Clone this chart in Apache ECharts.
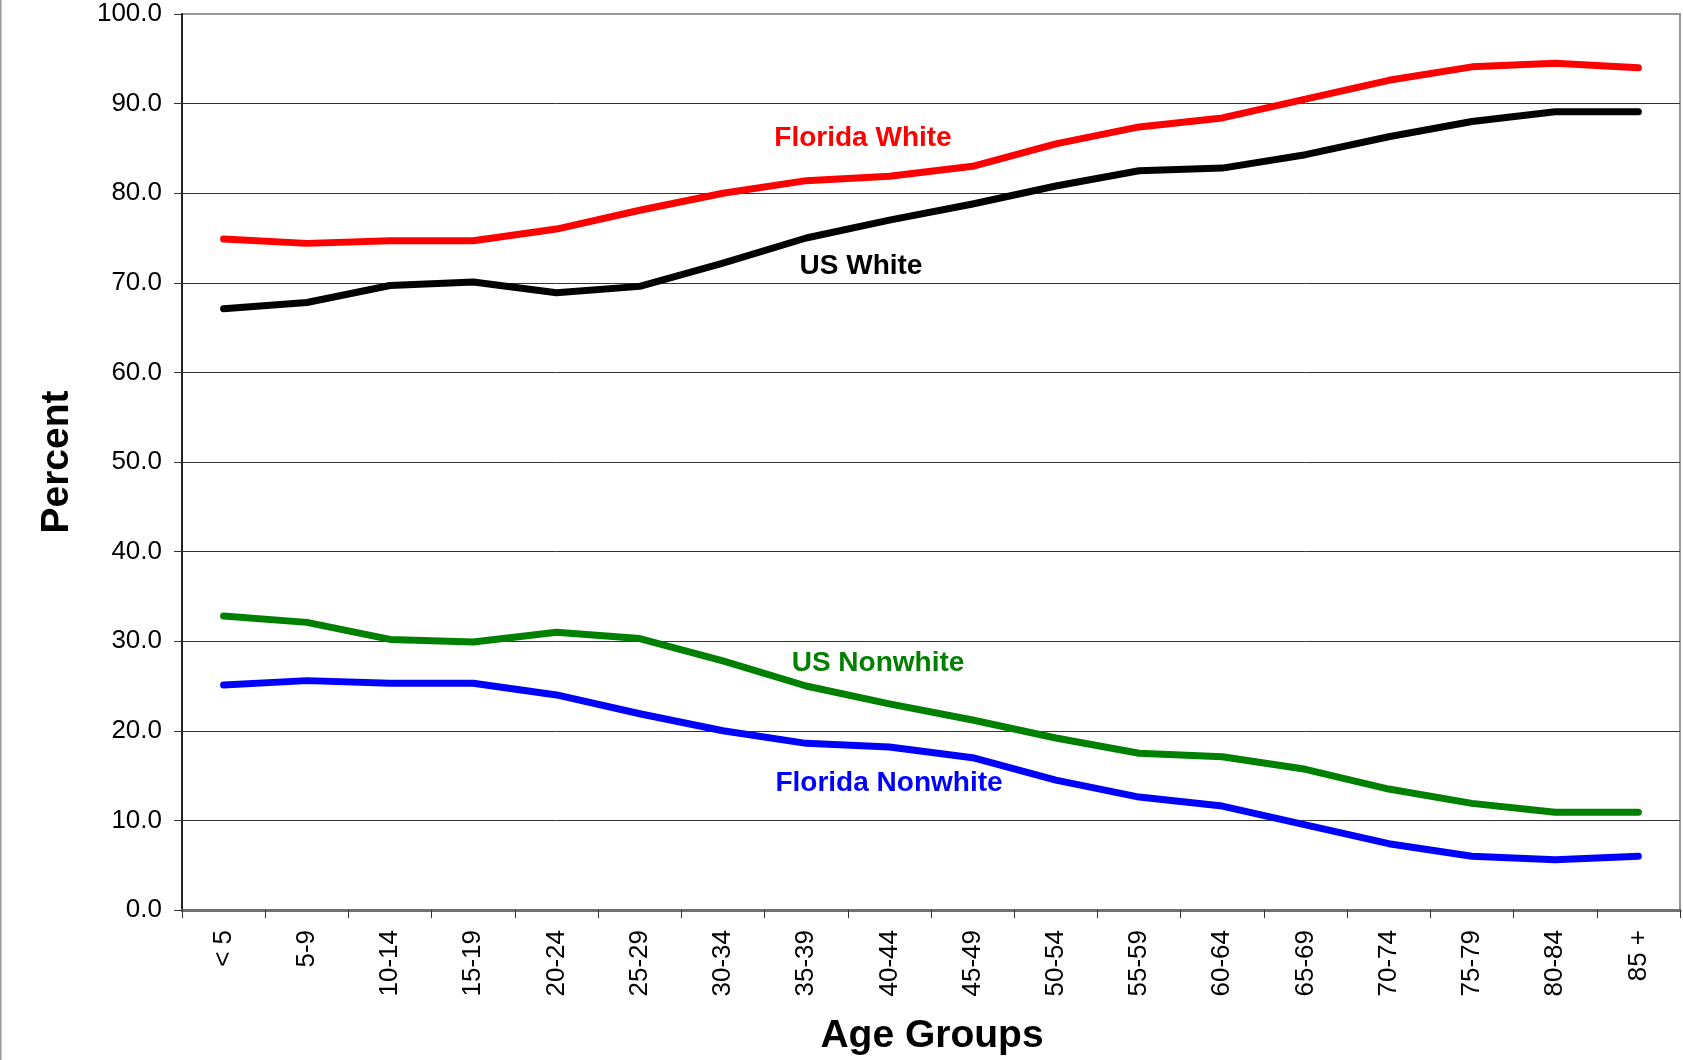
<!DOCTYPE html>
<html>
<head>
<meta charset="utf-8">
<script src="https://cdn.jsdelivr.net/npm/echarts@6/dist/echarts.min.js"></script>
<style>
html, body { margin: 0; padding: 0; background: #fff; }
#chart { width: 1683px; height: 1060px; }
</style>
</head>
<body>
<div id="chart"></div>
<script>
// age groups on the x axis
let ageGroups = ['< 5', '5-9', '10-14', '15-19', '20-24', '25-29', '30-34', '35-39', '40-44',
    '45-49', '50-54', '55-59', '60-64', '65-69', '70-74', '75-79', '80-84', '85 +']

// percent values
let floridaWhite = [74.9, 74.4, 74.7, 74.7, 76.0, 78.1, 80.0, 81.4, 81.9, 83.0, 85.5, 87.4, 88.4, 90.5, 92.6, 94.1, 94.5, 94.0]
let usWhite = [67.1, 67.8, 69.7, 70.1, 68.9, 69.6, 72.2, 75.0, 77.0, 78.8, 80.8, 82.5, 82.8, 84.3, 86.3, 88.0, 89.1, 89.1]
let usNonwhite = [32.8, 32.1, 30.2, 29.9, 31.0, 30.3, 27.8, 25.0, 23.0, 21.2, 19.2, 17.5, 17.1, 15.7, 13.5, 11.9, 10.9, 10.9]
let floridaNonwhite = [25.1, 25.6, 25.3, 25.3, 24.0, 21.9, 20.0, 18.6, 18.2, 17.0, 14.5, 12.6, 11.6, 9.5, 7.4, 6.0, 5.6, 6.0]

let font = "'Liberation Sans', Arial, sans-serif"

function makeLine(name, color, data) {
    return {
        name: name,
        type: 'line',
        data: data,
        symbol: 'none',
        smooth: false,
        lineStyle: { color: color, width: 7, cap: 'round', join: 'round' },
        emphasis: { disabled: true }
    }
}

function seriesLabel(text, color, x, y) {
    return {
        type: 'text',
        x: x,
        y: y,
        style: {
            text: text,
            fill: color,
            font: 'bold 28px ' + font,
            align: 'center',
            verticalAlign: 'middle'
        }
    }
}

let charts = echarts.init(document.getElementById('chart'))
let config = {
    backgroundColor: '#fff',
    animation: false,
    grid: {
        left: 182,
        right: 3,
        top: 14,
        bottom: 150,
        show: true,
        borderColor: '#999',
        borderWidth: 2
    },
    xAxis: {
        type: 'category',
        data: ageGroups,
        boundaryGap: true,
        axisLine: { lineStyle: { color: '#707070', width: 3 } },
        axisTick: { show: true, length: 8, lineStyle: { color: '#333', width: 1 } },
        axisLabel: {
            rotate: 90,
            margin: 20,
            color: '#000',
            fontSize: 26,
            fontFamily: font,
            interval: 0
        },
        splitLine: { show: false }
    },
    yAxis: {
        type: 'value',
        min: 0,
        max: 100,
        interval: 10,
        axisLine: { show: true, lineStyle: { color: '#222', width: 2 } },
        axisTick: { show: true, length: 8, lineStyle: { color: '#333', width: 1 } },
        axisLabel: {
            margin: 20,
            color: '#000',
            fontSize: 26,
            fontFamily: font,
            formatter: v => v.toFixed(1)
        },
        splitLine: { show: true, showMaxLine: false, lineStyle: { color: '#333', width: 1 } }
    },
    series: [
        makeLine('Florida White', '#ff0000', floridaWhite),
        makeLine('US White', '#000000', usWhite),
        makeLine('US Nonwhite', '#008000', usNonwhite),
        makeLine('Florida Nonwhite', '#0000ff', floridaNonwhite)
    ],
    graphic: [
        { type: 'line', shape: { x1: 0.5, y1: 0, x2: 0.5, y2: 1060 }, style: { stroke: '#999', lineWidth: 2 } },
        seriesLabel('Florida White', '#ff0000', 863, 138),
        seriesLabel('US White', '#000000', 861, 266),
        seriesLabel('US Nonwhite', '#008000', 878, 663),
        seriesLabel('Florida Nonwhite', '#0000ff', 889, 783),
        {
            type: 'text',
            x: 57,
            y: 462,
            rotation: Math.PI / 2,
            style: { text: 'Percent', fill: '#000', font: 'bold 39px ' + font, align: 'center', verticalAlign: 'middle' }
        },
        {
            type: 'text',
            x: 932,
            y: 1036,
            style: { text: 'Age Groups', fill: '#000', font: 'bold 39px ' + font, align: 'center', verticalAlign: 'middle' }
        }
    ]
}
config && charts.setOption(config)
window.addEventListener('resize', () => charts.resize())
</script>
</body>
</html>
